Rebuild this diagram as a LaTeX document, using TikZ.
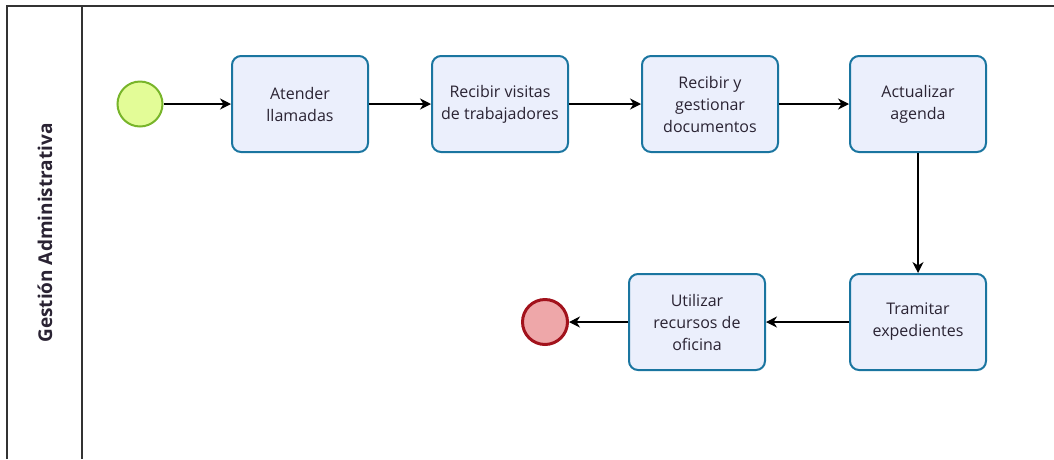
\documentclass[tikz,border=0pt]{standalone}
\usepackage{fontspec}
\setmainfont{Open Sans}
\usetikzlibrary{arrows.meta}
\definecolor{taskfill}{HTML}{EBEFFC}
\definecolor{taskline}{HTML}{1A75A0}
\definecolor{startfill}{HTML}{E3FC97}
\definecolor{startline}{HTML}{78B52A}
\definecolor{endfill}{HTML}{EEA7A9}
\definecolor{endline}{HTML}{A2121C}
\definecolor{txt}{HTML}{2A2333}
\tikzset{
  task/.style={draw=taskline, fill=taskfill, line width=2pt, rounded corners=9pt,
    minimum width=136pt, minimum height=96pt, align=center, text=txt,
    font=\fontsize{16}{22}\selectfont, inner sep=2pt},
  startev/.style={circle, draw=startline, fill=startfill, line width=2pt, minimum size=45pt, inner sep=0pt},
  endev/.style={circle, draw=endline, fill=endfill, line width=3pt, minimum size=45pt, inner sep=0pt},
  flow/.style={draw=black, line width=1.3pt, -{Stealth[length=11pt, width=11pt, inset=3.5pt]}},
  pool/.style={draw=black!80, line width=1.3pt}
}
\begin{document}
\begin{tikzpicture}[x=1pt, y=-1pt]
  \useasboundingbox (0,0) rectangle (1054,459);
  % pool outline and lane header
  \coordinate (tl) at (7,6);
  \coordinate (tr) at (1054,6);
  \coordinate (bl) at (7,459);
  \coordinate (hl) at (82,6);
  \coordinate (hb) at (82,459);
  \draw[pool] (bl) -- (tl) -- (tr);
  \draw[pool] (hl) -- (hb);
  \node[rotate=90, font=\bfseries\fontsize{19}{22}\selectfont, text=txt] (lane) at (45,233) {Gestión Administrativa};

  % events and tasks
  \node[startev] (start) at (140,104) {};
  \node[task] (t1) at (300,104) {Atender\\llamadas};
  \node[task] (t2) at (500,104) {Recibir visitas\\de trabajadores};
  \node[task] (t3) at (710,104) {Recibir y\\gestionar\\documentos};
  \node[task] (t4) at (918,104) {Actualizar\\agenda};
  \node[task] (t5) at (918,322) {Tramitar\\expedientes};
  \node[task] (t6) at (697,322) {Utilizar\\recursos de\\oficina};
  \node[endev] (end) at (545,322) {};

  % sequence flows
  \draw[flow] (start) -- (t1);
  \draw[flow] (t1) -- (t2);
  \draw[flow] (t2) -- (t3);
  \draw[flow] (t3) -- (t4);
  \draw[flow] (t4) -- (t5);
  \draw[flow] (t5) -- (t6);
  \draw[flow] (t6) -- (end);
\end{tikzpicture}
\end{document}
